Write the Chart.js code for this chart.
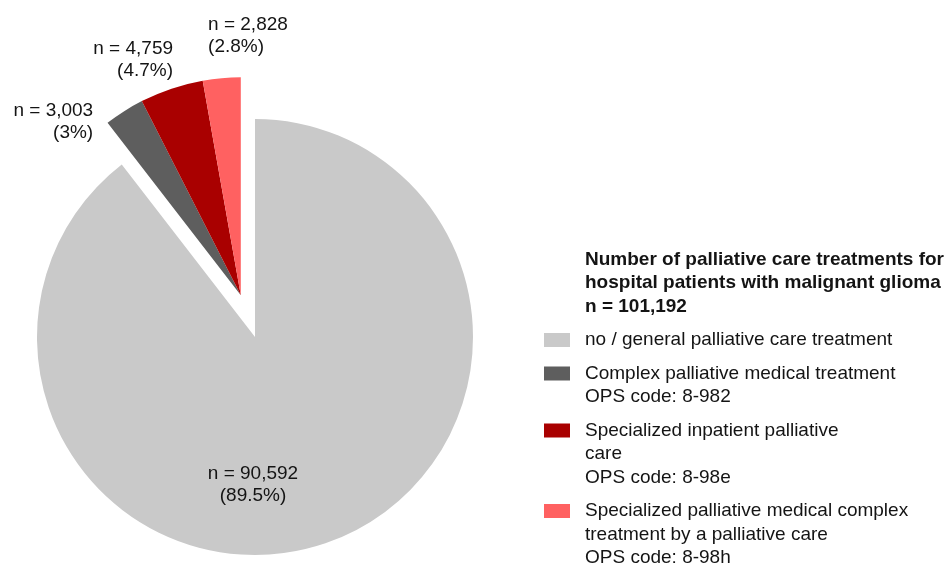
<!DOCTYPE html>
<html><head><meta charset="utf-8">
<script src="https://cdn.jsdelivr.net/npm/chart.js@4.4.1/dist/chart.umd.min.js"></script>
<style>html,body{margin:0;padding:0;background:#fff}#wrap{width:950px;height:569px;position:relative}</style>
</head><body><div id="wrap"><canvas id="c"></canvas></div>
<script>
// ---- data ----
const categories = [
  'no / general palliative care treatment',
  'Complex palliative medical treatment OPS code: 8-982',
  'Specialized inpatient palliative care OPS code: 8-98e',
  'Specialized palliative medical complex treatment by a palliative care OPS code: 8-98h'
];
const legendLines = [
  ['no / general palliative care treatment'],
  ['Complex palliative medical treatment', 'OPS code: 8-982'],
  ['Specialized inpatient palliative', 'care', 'OPS code: 8-98e'],
  ['Specialized palliative medical complex', 'treatment by a palliative care', 'OPS code: 8-98h']
];
const counts = [90592, 3003, 4759, 2828];
const countLabels = ['n = 90,592', 'n = 3,003', 'n = 4,759', 'n = 2,828'];
const percentLabels = ['(89.5%)', '(3%)', '(4.7%)', '(2.8%)'];
const colors = ['#c9c9c9', '#5e5e5e', '#a90000', '#ff6161'];
const titleLines = ['Number of palliative care treatments for', 'hospital patients with malignant glioma', 'n = 101,192'];
const explodedIdx = [1, 2, 3];

const FONT = '"Liberation Sans", Arial, Helvetica, sans-serif';
const TEXT = '#141414';

// group explode: move the small slices together along the group's mid angle
const explodePlugin = {
  id: 'explodeGroup',
  afterDatasetUpdate(chart, args, opts) {
    const els = args.meta.data;
    const first = els[explodedIdx[0]], last = els[explodedIdx[explodedIdx.length - 1]];
    const mid = (first.startAngle + last.endAngle) / 2;
    const dx = Math.cos(mid) * opts.distance, dy = Math.sin(mid) * opts.distance;
    explodedIdx.forEach(i => { els[i].x += dx; els[i].y += dy; });
  }
};

// value labels
const labelPlugin = {
  id: 'sliceLabels',
  afterDatasetsDraw(chart, args, opts) {
    const ctx = chart.ctx;
    const els = chart.getDatasetMeta(0).data;
    ctx.save();
    ctx.font = '19px ' + FONT;
    ctx.fillStyle = TEXT;
    ctx.textBaseline = 'middle';
    const lh = 22;
    els.forEach((el, i) => {
      const r = el.outerRadius;
      const mid = (el.startAngle + el.endAngle) / 2;
      const lines = [countLabels[i], percentLabels[i]];
      let x, y, align;
      if (i === 0) {
        x = el.x - 2; y = el.y + r * 0.628; align = 'center';
      } else {
        const px = el.x + Math.cos(mid) * r, py = el.y + Math.sin(mid) * r;
        const p = opts.place[i];
        x = px + p.dx; y = py + p.dy; align = p.align;
      }
      ctx.textAlign = align;
      lines.forEach((t, k) => ctx.fillText(t, x, y + k * lh));
    });
    ctx.restore();
  }
};

// legend on the right
const legendPlugin = {
  id: 'sideLegend',
  afterDraw(chart, args, opts) {
    const ctx = chart.ctx;
    ctx.save();
    ctx.textBaseline = 'middle';
    ctx.textAlign = 'left';
    ctx.fillStyle = TEXT;
    const lh = 23.5;
    const tx = opts.x;
    let y = opts.y;
    ctx.font = 'bold 19px ' + FONT;
    titleLines.forEach(t => { ctx.fillText(t, tx, y); y += lh; });
    y += 10;
    ctx.font = '19px ' + FONT;
    legendLines.forEach((lines, i) => {
      ctx.fillStyle = colors[i];
      ctx.fillRect(opts.boxX, y - 7, 26, 14);
      ctx.fillStyle = TEXT;
      lines.forEach((t, k) => ctx.fillText(t, tx, y + k * lh));
      y += lines.length * lh + 10;
    });
    ctx.restore();
  }
};

new Chart(document.getElementById('c'), {
  type: 'pie',
  data: {
    labels: categories,
    datasets: [{
      data: counts,
      backgroundColor: colors,
      borderWidth: 0,
      hoverOffset: 0
    }]
  },
  options: {
    responsive: true,
    maintainAspectRatio: false,
    animation: false,
    events: [],
    rotation: 0,
    layout: { padding: { left: 37, right: 477, top: 119, bottom: 14 } },
    plugins: {
      legend: { display: false },
      tooltip: { enabled: false },
      explodeGroup: { distance: 44 },
      sliceLabels: {
        place: {
          1: { dx: -31, dy: 0, align: 'right' },
          2: { dx: 1.5, dy: -40, align: 'right' },
          3: { dx: -13.6, dy: -53.4, align: 'left' }
        }
      },
      sideLegend: { x: 585, y: 259.5, boxX: 544 }
    }
  },
  plugins: [explodePlugin, labelPlugin, legendPlugin]
});
</script>
</body></html>
